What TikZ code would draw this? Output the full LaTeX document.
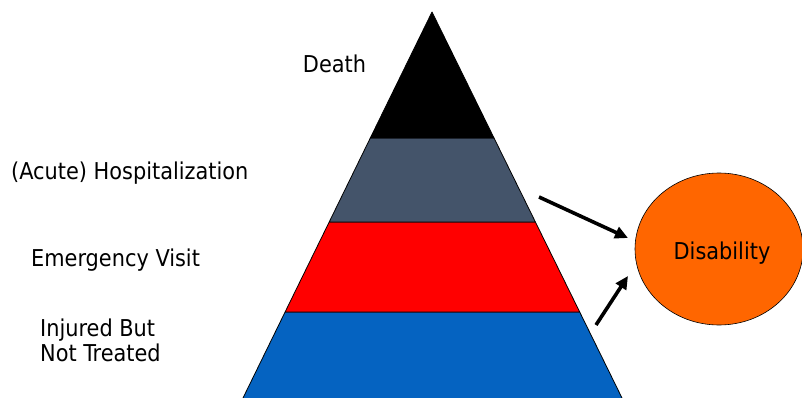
\documentclass[tikz,border=0pt]{standalone}
\usepackage{fontspec}
\setmainfont{DejaVu Sans Condensed}
\usetikzlibrary{arrows.meta,shapes.geometric}
\definecolor{layergray}{HTML}{44546A}
\definecolor{layerred}{HTML}{FF0000}
\definecolor{layerblue}{HTML}{0563C1}
\definecolor{disorange}{HTML}{FF6600}
\tikzset{
  layer/.style={draw=black,line width=0.8pt,line join=round},
  lbl/.style={font=\fontsize{23.2}{24.5}\selectfont,inner sep=0pt,align=left},
  bigarrow/.style={line width=3.6pt,-{Triangle[length=13pt,width=12pt]}}
}
\begin{document}
\begin{tikzpicture}[x=1pt,y=-1pt]
\useasboundingbox (0,0) rectangle (802,398);
% pyramid corners
\coordinate (apex) at (432,12);
\coordinate (l1) at (370.3,138); \coordinate (r1) at (494,138);
\coordinate (l2) at (329.2,222); \coordinate (r2) at (535.4,222);
\coordinate (l3) at (285.1,312); \coordinate (r3) at (579.7,312);
\coordinate (l4) at (243,398);   \coordinate (r4) at (622,398);
\fill[layerblue] (l3) -- (r3) -- (r4) -- (l4) -- cycle;
\draw[layer] (l3) -- (r3) (r3) -- (r4) (l4) -- (l3);
\draw[layer,fill=layerred] (l2) -- (r2) -- (r3) -- (l3) -- cycle;
\draw[layer,fill=layergray] (l1) -- (r1) -- (r2) -- (l2) -- cycle;
\draw[layer,fill=black] (apex) -- (r1) -- (l1) -- cycle;
% labels
\node[lbl,anchor=base] (death) at (334.5,72.7) {Death};
\node[lbl,anchor=base west] (hosp) at (11,179) {(Acute) Hospitalization};
\node[lbl,anchor=base west] (emerg) at (31,266) {Emergency Visit};
\node[lbl,anchor=base west] (injured) at (40,361) {Injured But\\Not Treated};
% disability
\node[ellipse,draw=black,line width=0.6pt,fill=disorange,minimum width=168pt,minimum height=152pt,inner sep=0pt] (dis) at (719,249) {};
\node[lbl,anchor=base] (distext) at (722,259.3) {Disability};
% arrows
\coordinate (a1s) at (539,197); \coordinate (a1e) at (628,238);
\coordinate (a2s) at (596,325); \coordinate (a2e) at (628,276);
\draw[bigarrow] (a1s) -- (a1e);
\draw[bigarrow] (a2s) -- (a2e);
\end{tikzpicture}
\end{document}
